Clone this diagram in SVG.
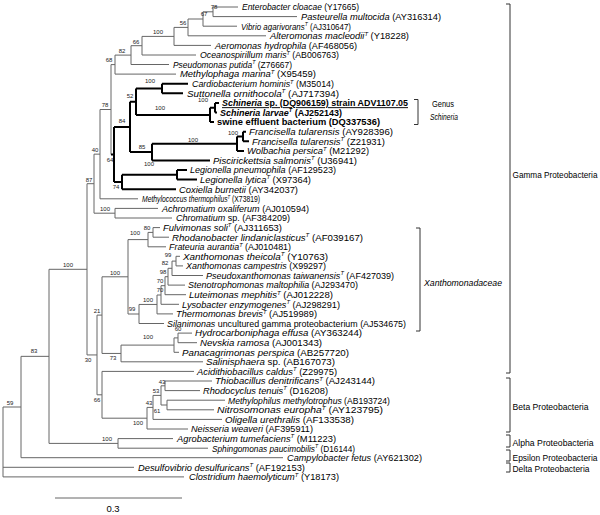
<svg xmlns="http://www.w3.org/2000/svg" width="600" height="515" viewBox="0 0 600 515">
<style>
.t{fill:none;stroke:#666;stroke-width:1}
.k{fill:none;stroke:#000;stroke-width:2}
.br{fill:none;stroke:#333;stroke-width:1}
text{font-family:"Liberation Sans",Arial,sans-serif;fill:#000}
.lb{font-size:9.5px}
.i{font-style:italic}
.b{font-weight:bold}
.sup{font-size:6px;font-style:italic}
.bs{font-size:6px;text-anchor:middle;fill:#222}
.grp{font-size:8.2px}
</style>
<rect width="600" height="515" fill="#fff"/>
<g id="connectors">
<path class="t" d="M3 407V476.9M3 407H21M3 467.3H134M3 476.9H184
M21 356.35V457.7M21 457.7H283M21 356.35H49
M49 269.3V443.4M49 269.3H87M49 443.4H118
M118 438.6V448.2M118 438.6H173M118 448.2H208
M87 183.7V354.95M87 183.7H94M87 354.95H97
M94 154.15V213.2M94 154.15H100M94 213.2H115
M115 208.4V218M115 208.4H158M115 218H172
M100 109.5V198.8M100 109.5H111M100 198.8H138
M111 64.6V154.45M111 64.6H115
M115 55.1V74.1M115 55.1H131M115 74.1H176
M131 45.7V64.5M131 45.7H142M131 64.5H169
M142 36.4V55M142 36.4H174M142 55H196
M174 27.4V45.4M174 27.4H188M174 45.4H211
M188 19V35.8M188 19H203M188 35.8H266
M203 11.8V26.2M203 11.8H213M203 26.2H237
M213 7V16.6M213 7H238M213 16.6H297
M97 315.1V394.8M97 315.1H102M97 394.8H102
M102 276.8V353.45M102 276.8H128M102 353.45H121
M128 239.6V314M128 239.6H148M128 314H139
M148 232.4V246.8M148 232.4H153M148 246.8H166
M153 227.6V237.2M153 227.6H160M153 237.2H169
M139 304.45V323.5M139 304.45H157M139 323.5H164
M157 295V313.9M157 295H161M157 313.9H173
M161 285.7V304.3M161 285.7H165M161 304.3H179
M165 276.7V294.7M165 276.7H168M165 294.7H186
M168 268.3V285.1M168 268.3H172M168 285.1H185
M172 261.1V275.5M172 261.1H176M172 275.5H203
M176 256.3V265.9M176 256.3H180M176 265.9H183
M121 345.1V361.8M121 345.1H174M121 361.8H203
M174 337.9V352.3M174 337.9H178M174 352.3H179
M178 333.1V342.7M178 333.1H192M178 342.7H197
M102 371.4V418.2M102 371.4H194M102 418.2H147
M147 407.4V429M147 407.4H153M147 429H188
M153 395.4V419.4M153 395.4H161M153 419.4H222
M161 385.8V405M161 385.8H165M161 405H167
M165 381V390.6M165 381H212M165 390.6H200
M167 400.2V409.8M167 400.2H225M167 409.8H214
M55 498H182"/>
<path class="k" d="M111 154.45H114
M114 126.9V182M114 126.9H130M114 182H122
M130 101.7V152.05M130 101.7H136M130 152.05H152
M136 88.5V114.9M136 88.5H162M136 114.9H210
M162 83.7V93.3M162 83.7H188M162 93.3H183
M210 107.7V122.1M210 107.7H215M210 122.1H214
M215 102.9V112.5M215 102.9H219M215 112.5H217
M152 143.7V160.4M152 143.7H237M152 160.4H210
M237 136.5V150.9M237 136.5H243M237 150.9H244
M243 131.7V141.3M243 131.7H246M243 141.3H249
M122 174.8V189.2M122 174.8H177M122 189.2H176
M177 170V179.6M177 170H187M177 179.6H197"/>
</g>
<g id="brackets">
<path class="br" d="M414 99.5H418V124.5H414M416 228H420V331H416M506 4H510V373H506M506 378H510V432H506M506 435H510V447H506M506 450H510V461H506M506 463H510V472H506"/>
<text x="443" y="107" font-size="9" text-anchor="middle" textLength="22" lengthAdjust="spacingAndGlyphs">Genus</text>
<text class="i" x="444" y="120" font-size="9" text-anchor="middle" textLength="28" lengthAdjust="spacingAndGlyphs">Schineria</text>
<text class="grp i" x="424" y="286" textLength="78" lengthAdjust="spacingAndGlyphs">Xanthomonadaceae</text>
<text class="grp" x="512.5" y="178" textLength="85" lengthAdjust="spacingAndGlyphs">Gamma Proteobacteria</text>
<text class="grp" x="512.5" y="410" textLength="76" lengthAdjust="spacingAndGlyphs">Beta Proteobacteria</text>
<text class="grp" x="512.5" y="446" textLength="81" lengthAdjust="spacingAndGlyphs">Alpha Proteobacteria</text>
<text class="grp" x="512.5" y="461" textLength="85" lengthAdjust="spacingAndGlyphs">Epsilon Proteobacteria</text>
<text class="grp" x="512.5" y="472" textLength="77" lengthAdjust="spacingAndGlyphs">Delta Proteobacteria</text>
</g>
<g id="bootstrap" class="bs">
<text class="bs" x="214" y="9.2">78</text><text class="bs" x="204" y="16.2">67</text><text class="bs" x="183" y="25.2">56</text><text class="bs" x="158" y="34.2">100</text><text class="bs" x="136" y="44.2">66</text><text class="bs" x="122" y="53.2">82</text><text class="bs" x="109" y="62.2">68</text>
<text class="bs" x="150" y="83.2">100</text><text class="bs" x="130" y="98.2">52</text><text class="bs" x="160" y="110.2">100</text><text class="bs" x="203" y="101.5">100</text><text class="bs" x="122" y="123.2">84</text><text class="bs" x="193" y="142.2">100</text><text class="bs" x="233" y="135.2">100</text><text class="bs" x="142" y="149.2">85</text><text class="bs" x="110" y="162.2">64</text><text class="bs" x="149" y="166.2">100</text><text class="bs" x="116" y="189.2">74</text>
<text class="bs" x="105" y="107.2">78</text><text class="bs" x="95" y="152.2">40</text><text class="bs" x="89" y="182.2">87</text><text class="bs" x="105" y="211.2">100</text>
<text class="bs" x="147" y="230.2">80</text><text class="bs" x="135" y="235.2">100</text><text class="bs" x="168" y="257.2">99</text><text class="bs" x="165" y="265.2">82</text><text class="bs" x="163" y="274.2">98</text><text class="bs" x="115" y="275.2">100</text><text class="bs" x="160" y="283.2">70</text><text class="bs" x="160" y="292.2">70</text><text class="bs" x="148" y="302.2">100</text><text class="bs" x="132" y="311.2">99</text><text class="bs" x="97" y="313.2">21</text>
<text class="bs" x="178" y="331">60</text><text class="bs" x="148" y="339.2">100</text><text class="bs" x="113" y="360.2">73</text><text class="bs" x="88" y="362.2">30</text>
<text class="bs" x="162" y="384.2">43</text><text class="bs" x="156" y="393.2">53</text><text class="bs" x="97" y="402.2">66</text><text class="bs" x="149" y="405.2">43</text><text class="bs" x="157" y="413.2">61</text><text class="bs" x="138" y="425.2">100</text>
<text class="bs" x="107" y="441.2">100</text><text class="bs" x="68" y="267.2">100</text><text class="bs" x="34" y="353.2">83</text><text class="bs" x="10" y="405.2">59</text>
<text x="113" y="512" font-size="9.5" text-anchor="middle">0.3</text>
</g>
<g id="leaves" class="lb">
<g id="n1"><text x="242" y="10.3" textLength="117" lengthAdjust="spacingAndGlyphs"><tspan class="i">Enterobacter cloacae</tspan> (Y17665)</text></g>
<g id="n2"><text x="301" y="19.9" textLength="140" lengthAdjust="spacingAndGlyphs"><tspan class="i">Pasteurella multocida</tspan> (AY316314)</text></g>
<g id="n3"><text x="241" y="29.5" textLength="110" lengthAdjust="spacingAndGlyphs"><tspan class="i">Vibrio agarivorans</tspan><tspan class="sup" dy="-3.5">T</tspan><tspan dy="3.5"> (AJ310647)</tspan></text></g>
<g id="n4"><text x="270" y="39.1" textLength="139" lengthAdjust="spacingAndGlyphs"><tspan class="i">Alteromonas macleodii</tspan><tspan class="sup" dy="-3.5">T</tspan><tspan dy="3.5"> (Y18228)</tspan></text></g>
<g id="n5"><text x="215" y="48.7" textLength="142" lengthAdjust="spacingAndGlyphs"><tspan class="i">Aeromonas hydrophila</tspan> (AF468056)</text></g>
<g id="n6"><text x="200" y="58.3" textLength="139" lengthAdjust="spacingAndGlyphs"><tspan class="i">Oceanospirillum maris</tspan><tspan class="sup" dy="-3.5">T</tspan><tspan dy="3.5"> (AB006763)</tspan></text></g>
<g id="n7"><text x="173" y="67.8" textLength="119" lengthAdjust="spacingAndGlyphs"><tspan class="i">Pseudomonas putida</tspan><tspan class="sup" dy="-3.5">T</tspan><tspan dy="3.5"> (Z76667)</tspan></text></g>
<g id="n8"><text x="180" y="77.4" textLength="136" lengthAdjust="spacingAndGlyphs"><tspan class="i">Methylophaga marina</tspan><tspan class="sup" dy="-3.5">T</tspan><tspan dy="3.5"> (X95459)</tspan></text></g>
<g id="n9"><text x="192" y="87" textLength="142" lengthAdjust="spacingAndGlyphs"><tspan class="i">Cardiobacterium hominis</tspan><tspan class="sup" dy="-3.5">T</tspan><tspan dy="3.5"> (M35014)</tspan></text></g>
<g id="n10"><text x="187" y="96.6" textLength="152" lengthAdjust="spacingAndGlyphs"><tspan class="i">Suttonella ornithocola</tspan><tspan class="sup" dy="-3.5">T</tspan><tspan dy="3.5"> (AJ717394)</tspan></text></g>
<g id="n11"><text x="222" y="106.2" class="b" text-decoration="underline" textLength="186" lengthAdjust="spacingAndGlyphs"><tspan class="i">Schineria</tspan> sp. (DQ906159) strain ADV1107.05</text></g>
<g id="n12"><text x="220" y="115.8" class="b" textLength="122" lengthAdjust="spacingAndGlyphs"><tspan class="i">Schineria larvae</tspan><tspan class="sup" dy="-3.5">T</tspan><tspan dy="3.5"> (AJ252143)</tspan></text></g>
<g id="n13"><text x="217" y="125.4" class="b" textLength="163" lengthAdjust="spacingAndGlyphs">swine effluent bacterium (DQ337536)</text></g>
<g id="n14"><text x="249" y="135" textLength="144" lengthAdjust="spacingAndGlyphs"><tspan class="i">Francisella tularensis</tspan> (AY928396)</text></g>
<g id="n15"><text x="252" y="144.6" textLength="133" lengthAdjust="spacingAndGlyphs"><tspan class="i">Francisella tularensis</tspan><tspan class="sup" dy="-3.5">T</tspan><tspan dy="3.5"> (Z21931)</tspan></text></g>
<g id="n16"><text x="247" y="154.2" textLength="122" lengthAdjust="spacingAndGlyphs"><tspan class="i">Wolbachia persica</tspan><tspan class="sup" dy="-3.5">T</tspan><tspan dy="3.5"> (M21292)</tspan></text></g>
<g id="n17"><text x="213" y="163.7" textLength="144" lengthAdjust="spacingAndGlyphs"><tspan class="i">Piscirickettsia salmonis</tspan><tspan class="sup" dy="-3.5">T</tspan><tspan dy="3.5"> (U36941)</tspan></text></g>
<g id="n18"><text x="190" y="173.3" textLength="146" lengthAdjust="spacingAndGlyphs"><tspan class="i">Legionella pneumophila</tspan> (AF129523)</text></g>
<g id="n19"><text x="200" y="182.9" textLength="111" lengthAdjust="spacingAndGlyphs"><tspan class="i">Legionella lytica</tspan><tspan class="sup" dy="-3.5">T</tspan><tspan dy="3.5"> (X97364)</tspan></text></g>
<g id="n20"><text x="179" y="192.5" textLength="119" lengthAdjust="spacingAndGlyphs"><tspan class="i">Coxiella burnetii</tspan> (AY342037)</text></g>
<g id="n21"><text x="142" y="202.1" textLength="118" lengthAdjust="spacingAndGlyphs"><tspan class="i">Methylococcus thermophilus</tspan><tspan class="sup" dy="-3.5">T</tspan><tspan dy="3.5"> (X73819)</tspan></text></g>
<g id="n22"><text x="162" y="211.7" textLength="147" lengthAdjust="spacingAndGlyphs"><tspan class="i">Achromatium oxaliferum</tspan> (AJ010594)</text></g>
<g id="n23"><text x="176" y="221.3" textLength="114" lengthAdjust="spacingAndGlyphs"><tspan class="i">Chromatium</tspan> sp. (AF384209)</text></g>
<g id="n24"><text x="163" y="230.9" textLength="119" lengthAdjust="spacingAndGlyphs"><tspan class="i">Fulvimonas soli</tspan><tspan class="sup" dy="-3.5">T</tspan><tspan dy="3.5"> (AJ311653)</tspan></text></g>
<g id="n25"><text x="172" y="240.5" textLength="191" lengthAdjust="spacingAndGlyphs"><tspan class="i">Rhodanobacter lindaniclasticus</tspan><tspan class="sup" dy="-3.5">T</tspan><tspan dy="3.5"> (AF039167)</tspan></text></g>
<g id="n26"><text x="169" y="250.1" textLength="122" lengthAdjust="spacingAndGlyphs"><tspan class="i">Frateuria aurantia</tspan><tspan class="sup" dy="-3.5">T</tspan><tspan dy="3.5"> (AJ010481)</tspan></text></g>
<g id="n27"><text x="183" y="259.6" textLength="145" lengthAdjust="spacingAndGlyphs"><tspan class="i">Xanthomonas theicola</tspan><tspan class="sup" dy="-3.5">T</tspan><tspan dy="3.5"> (Y10763)</tspan></text></g>
<g id="n28"><text x="186" y="269.2" textLength="140" lengthAdjust="spacingAndGlyphs"><tspan class="i">Xanthomonas campestris</tspan> (X99297)</text></g>
<g id="n29"><text x="206" y="278.8" textLength="188" lengthAdjust="spacingAndGlyphs"><tspan class="i">Pseudoxanthomonas taiwanensis</tspan><tspan class="sup" dy="-3.5">T</tspan><tspan dy="3.5"> (AF427039)</tspan></text></g>
<g id="n30"><text x="188" y="288.4" textLength="170" lengthAdjust="spacingAndGlyphs"><tspan class="i">Stenotrophomonas maltophilia</tspan> (AJ293470)</text></g>
<g id="n31"><text x="189" y="298" textLength="144" lengthAdjust="spacingAndGlyphs"><tspan class="i">Luteimonas mephitis</tspan><tspan class="sup" dy="-3.5">T</tspan><tspan dy="3.5"> (AJ012228)</tspan></text></g>
<g id="n32"><text x="182" y="307.6" textLength="158" lengthAdjust="spacingAndGlyphs"><tspan class="i">Lysobacter enzymogenes</tspan><tspan class="sup" dy="-3.5">T</tspan><tspan dy="3.5"> (AJ298291)</tspan></text></g>
<g id="n33"><text x="176" y="317.2" textLength="141" lengthAdjust="spacingAndGlyphs"><tspan class="i">Thermomonas brevis</tspan><tspan class="sup" dy="-3.5">T</tspan><tspan dy="3.5"> (AJ519989)</tspan></text></g>
<g id="n34"><text x="167" y="326.8" textLength="239" lengthAdjust="spacingAndGlyphs"><tspan class="i">Silanimonas</tspan> uncultured gamma proteobacterium (AJ534675)</text></g>
<g id="n35"><text x="195" y="336.4" textLength="167" lengthAdjust="spacingAndGlyphs"><tspan class="i">Hydrocarboniphaga effusa</tspan> (AY363244)</text></g>
<g id="n36"><text x="200" y="346" textLength="122" lengthAdjust="spacingAndGlyphs"><tspan class="i">Nevskia ramosa</tspan> (AJ001343)</text></g>
<g id="n37"><text x="182" y="355.6" textLength="167" lengthAdjust="spacingAndGlyphs"><tspan class="i">Panacagrimonas perspica</tspan> (AB257720)</text></g>
<g id="n38"><text x="206" y="365.1" textLength="129" lengthAdjust="spacingAndGlyphs"><tspan class="i">Salinisphaera</tspan> sp. (AB167073)</text></g>
<g id="n39"><text x="197" y="374.7" textLength="140" lengthAdjust="spacingAndGlyphs"><tspan class="i">Acidithiobacillus caldus</tspan><tspan class="sup" dy="-3.5">T</tspan><tspan dy="3.5"> (Z29975)</tspan></text></g>
<g id="n40"><text x="215" y="384.3" textLength="160" lengthAdjust="spacingAndGlyphs"><tspan class="i">Thiobacillus denitrificans</tspan><tspan class="sup" dy="-3.5">T</tspan><tspan dy="3.5"> (AJ243144)</tspan></text></g>
<g id="n41"><text x="203" y="393.9" textLength="125" lengthAdjust="spacingAndGlyphs"><tspan class="i">Rhodocyclus tenuis</tspan><tspan class="sup" dy="-3.5">T</tspan><tspan dy="3.5"> (D16208)</tspan></text></g>
<g id="n42"><text x="228" y="403.5" textLength="162" lengthAdjust="spacingAndGlyphs"><tspan class="i">Methylophilus methylotrophus</tspan> (AB193724)</text></g>
<g id="n43"><text x="217" y="413.1" textLength="166" lengthAdjust="spacingAndGlyphs"><tspan class="i">Nitrosomonas europha</tspan><tspan class="sup" dy="-3.5">T</tspan><tspan dy="3.5"> (AY123795)</tspan></text></g>
<g id="n44"><text x="225" y="422.7" textLength="129" lengthAdjust="spacingAndGlyphs"><tspan class="i">Oligella urethralis</tspan> (AF133538)</text></g>
<g id="n45"><text x="191" y="432.3" textLength="122" lengthAdjust="spacingAndGlyphs"><tspan class="i">Neisseria weaveri</tspan> (AF395911)</text></g>
<g id="n46"><text x="177" y="441.9" textLength="159" lengthAdjust="spacingAndGlyphs"><tspan class="i">Agrobacterium tumefaciens</tspan><tspan class="sup" dy="-3.5">T</tspan><tspan dy="3.5"> (M11223)</tspan></text></g>
<g id="n47"><text x="212" y="451.5" textLength="143" lengthAdjust="spacingAndGlyphs"><tspan class="i">Sphingomonas paucimobilis</tspan><tspan class="sup" dy="-3.5">T</tspan><tspan dy="3.5"> (D16144)</tspan></text></g>
<g id="n48"><text x="287" y="461" textLength="135" lengthAdjust="spacingAndGlyphs"><tspan class="i">Campylobacter fetus</tspan> (AY621302)</text></g>
<g id="n49"><text x="138" y="470.6" textLength="167" lengthAdjust="spacingAndGlyphs"><tspan class="i">Desulfovibrio desulfuricans</tspan><tspan class="sup" dy="-3.5">T</tspan><tspan dy="3.5"> (AF192153)</tspan></text></g>
<g id="n50"><text x="189" y="480.2" textLength="150" lengthAdjust="spacingAndGlyphs"><tspan class="i">Clostridium haemolyticum</tspan><tspan class="sup" dy="-3.5">T</tspan><tspan dy="3.5"> (Y18173)</tspan></text></g>
</g>
</svg>
